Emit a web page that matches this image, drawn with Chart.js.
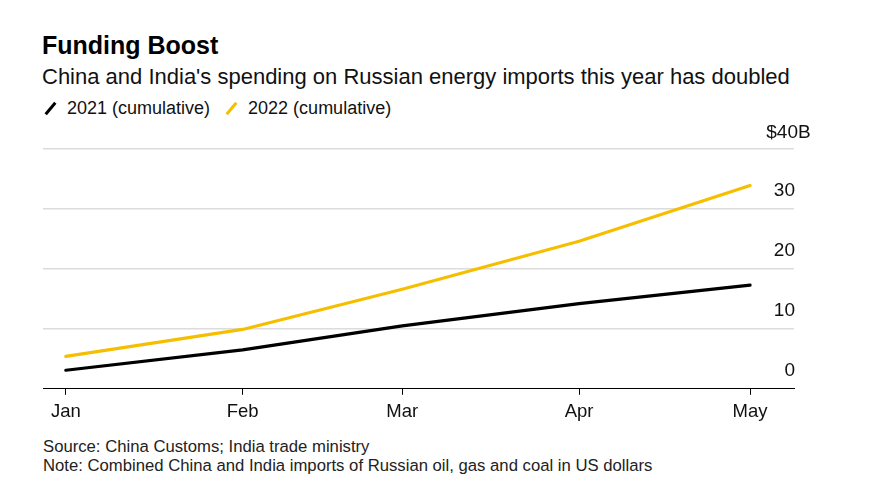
<!DOCTYPE html>
<html>
<head>
<meta charset="utf-8">
<script src="https://cdn.jsdelivr.net/npm/chart.js@4.4.0/dist/chart.umd.min.js"></script>
<style>
  html, body { margin: 0; padding: 0; background: #fff; }
  body { width: 869px; height: 493px; position: relative; overflow: hidden; font-family: "Liberation Sans", Arial, sans-serif; color: #000; }
  .title { position: absolute; left: 42px; top: 33px; font-size: 25px; line-height: 24px; font-weight: bold; white-space: nowrap; }
  .subtitle { position: absolute; left: 42px; top: 66px; font-size: 22px; line-height: 22px; white-space: nowrap; color: #111; }
  .legend { position: absolute; left: 43px; top: 99px; font-size: 18px; line-height: 18px; white-space: nowrap; color: #111; }
  .legend .item { display: inline-block; margin-right: 14px; }
  .legend .sw { display: inline-block; width: 3px; height: 15px; transform: rotate(40deg); vertical-align: -2px; margin: 0 15px 0 6px; }
  .footer { position: absolute; left: 43px; top: 437px; font-size: 16.7px; line-height: 19px; white-space: nowrap; color: #222; }
  #wrap { position: absolute; left: 0; top: 120px; width: 869px; height: 310px; }
</style>
</head>
<body>
<div class="title">Funding Boost</div>
<div class="subtitle">China and India's spending on Russian energy imports this year has doubled</div>
<div class="legend" id="legend"></div>
<div id="wrap"><canvas id="c" width="869" height="310"></canvas></div>
<div class="footer">Source: China Customs; India trade ministry<br>Note: Combined China and India imports of Russian oil, gas and coal in US dollars</div>
<script>
// ---- data ----
const months = ['Jan', 'Feb', 'Mar', 'Apr', 'May'];
const monthDates = ['2022-01-01', '2022-02-01', '2022-03-01', '2022-04-01', '2022-05-01'];
const seriesNames = ['2021 (cumulative)', '2022 (cumulative)'];
const values2021 = [3.1, 6.5, 10.5, 14.2, 17.3];
const values2022 = [5.4, 9.9, 16.6, 24.6, 33.9];
const yTickValues = [0, 10, 20, 30, 40];
const seriesColors = ['#000000', '#f5bf00'];

// day offsets from Jan 1 (from the dates)
const dayOffsets = monthDates.map(d => Math.round((Date.parse(d) - Date.parse(monthDates[0])) / 86400000));

// legend
const legendEl = document.getElementById('legend');
seriesNames.forEach((n, i) => {
  const it = document.createElement('span');
  it.className = 'item';
  it.innerHTML = '<span class="sw" style="background:' + seriesColors[i] + '"></span>' + n;
  legendEl.appendChild(it);
});

const FONT = "'Liberation Sans', Arial, sans-serif";

const yLabelPlugin = {
  id: 'yLabels',
  afterDraw(chart) {
    const ys = chart.scales.y, ca = chart.chartArea, ctx = chart.ctx;
    ctx.save();
    ctx.font = '19px ' + FONT;
    ctx.fillStyle = '#111';
    ctx.textBaseline = 'middle';
    yTickValues.forEach(v => {
      const y = ys.getPixelForValue(v) - 18;
      const x = ca.right + 1;
      if (v === yTickValues[yTickValues.length - 1]) {
        ctx.textAlign = 'right';
        ctx.fillText('$' + v, x + 3, y + 2);
        ctx.textAlign = 'left';
        ctx.fillText('B', x + 3, y + 2);
      } else {
        ctx.textAlign = 'right';
        ctx.fillText(String(v), x, y);
      }
    });
    ctx.restore();
  }
};

new Chart(document.getElementById('c'), {
  type: 'line',
  data: {
    datasets: [
      { label: seriesNames[0], data: values2021.map((v, i) => ({ x: dayOffsets[i], y: v })), borderColor: seriesColors[0], borderWidth: 3.2, pointRadius: 0, tension: 0, borderCapStyle: 'round', borderJoinStyle: 'round' },
      { label: seriesNames[1], data: values2022.map((v, i) => ({ x: dayOffsets[i], y: v })), borderColor: seriesColors[1], borderWidth: 3.2, pointRadius: 0, tension: 0, borderCapStyle: 'round', borderJoinStyle: 'round' }
    ]
  },
  options: {
    responsive: false,
    animation: false,
    events: [],
    layout: { padding: { left: 43, right: 75, top: 29, bottom: 1 } },
    plugins: { legend: { display: false }, tooltip: { enabled: false }, title: { display: false } },
    scales: {
      x: {
        type: 'linear',
        min: -4,
        max: 127.7,
        afterBuildTicks: (s) => { s.ticks = dayOffsets.map(v => ({ value: v })); },
        ticks: {
          autoSkip: false,
          maxRotation: 0,
          padding: 6,
          color: '#111',
          font: { family: FONT, size: 18.5 },
          callback: (v) => { const i = dayOffsets.indexOf(v); return i >= 0 ? months[i] : ''; }
        },
        grid: { drawOnChartArea: false, drawTicks: true, tickLength: 6, color: '#000', lineWidth: 1 },
        border: { display: true, color: '#000', width: 1 }
      },
      y: {
        position: 'right',
        min: 0,
        max: 40,
        afterBuildTicks: (s) => { s.ticks = yTickValues.map(v => ({ value: v })); },
        ticks: { display: false },
        grid: { drawTicks: false, color: (c) => (c.tick && c.tick.value === 0) ? 'rgba(0,0,0,0)' : '#dcdcdc', lineWidth: 1.5 },
        border: { display: false }
      }
    }
  },
  plugins: [yLabelPlugin]
});
</script>
</body>
</html>
